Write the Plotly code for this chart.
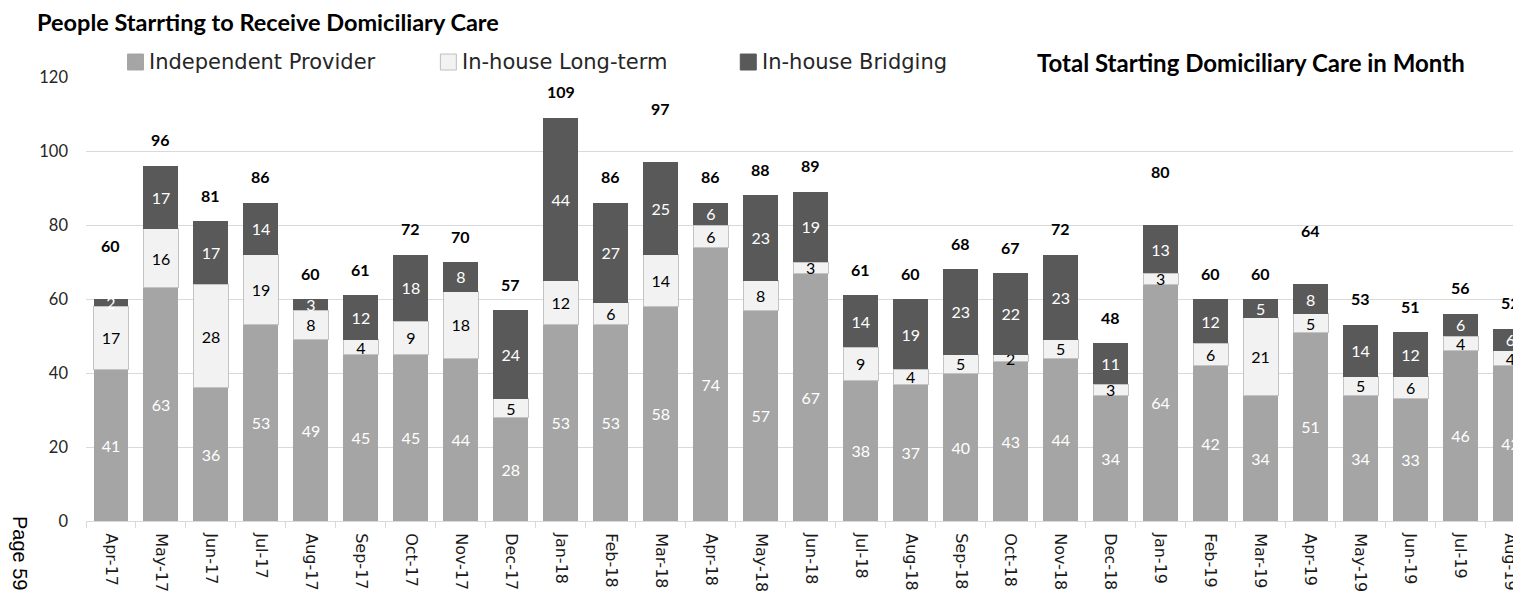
import plotly.graph_objects as go

months = ["Apr-17", "May-17", "Jun-17", "Jul-17", "Aug-17", "Sep-17", "Oct-17", "Nov-17", "Dec-17",
          "Jan-18", "Feb-18", "Mar-18", "Apr-18", "May-18", "Jun-18", "Jul-18", "Aug-18", "Sep-18",
          "Oct-18", "Nov-18", "Dec-18", "Jan-19", "Feb-19", "Mar-19", "Apr-19", "May-19", "Jun-19",
          "Jul-19", "Aug-19"]
independent = [41, 63, 36, 53, 49, 45, 45, 44, 28, 53, 53, 58, 74, 57, 67, 38, 37, 40, 43, 44,
               34, 64, 42, 34, 51, 34, 33, 46, 42]
long_term = [17, 16, 28, 19, 8, 4, 9, 18, 5, 12, 6, 14, 6, 8, 3, 9, 4, 5, 2, 5,
             3, 3, 6, 21, 5, 5, 6, 4, 4]
bridging = [2, 17, 17, 14, 3, 12, 18, 8, 24, 44, 27, 25, 6, 23, 19, 14, 19, 23, 22, 23,
            11, 13, 12, 5, 8, 14, 12, 6, 6]
totals = [60, 96, 81, 86, 60, 61, 72, 70, 57, 109, 86, 97, 86, 88, 89, 61, 60, 68, 67, 72,
          48, 80, 60, 60, 64, 53, 51, 56, 52]
y_ticks = [0, 20, 40, 60, 80, 100, 120]
series_names = ["Independent Provider", "In-house Long-term", "In-house Bridging"]
total_name = "Total Starting Domiciliary Care in Month"
title_text = "People Starrting to Receive Domiciliary Care"

# style: total labels that sit higher above their bar in the reference
raised_total_labels = {"Apr-17", "Mar-18", "Jan-19", "Apr-19"}

# ---- geometry (page offset of 8px from default body margin) ----
OFF = 8
W, H = 1521 - OFF, 591 - OFF
ML = 85.5 - OFF
MT = 77 - OFF
MB = H - (521.5 - OFF)
PW, PH = W - ML, H - MT - MB
cat_px = 50.0
x_right = PW / cat_px - 0.5


def px(xp):
    return (xp - OFF - ML) / PW


def py(yp):
    return 1 - (yp - OFF - MT) / PH


LABEL_FONT = "Lato, Carlito, Calibri, sans-serif"
TICK_FONT = "DejaVu Sans, Verdana, sans-serif"

colors = ["#a5a5a5", "#f2f2f2", "#595959"]
text_colors = ["white", "black", "white"]
line_widths = [0, 1, 0]
line_colors = ["#a5a5a5", "#c4c4c4", "#595959"]

fig = go.Figure()
for name, vals, col, tcol, lw, lcol in zip(series_names, [independent, long_term, bridging],
                                          colors, text_colors, line_widths, line_colors):
    fig.add_trace(go.Bar(
        name=name, x=months, y=vals,
        marker=dict(color=col, line=dict(width=lw, color=lcol)),
        text=[str(v) for v in vals], textposition="inside", insidetextanchor="middle",
        textangle=0, textfont=dict(family=LABEL_FONT, size=16, color=tcol),
        hoverinfo="skip", showlegend=False,
    ))

for m, t in zip(months, totals):
    fig.add_annotation(
        x=m, y=t, xref="x", yref="y", text=f"<b>{t}</b>", showarrow=False,
        yanchor="middle", xanchor="center",
        yshift=54 if m in raised_total_labels else 26,
        font=dict(family=LABEL_FONT, size=16, color="black"),
    )

# manual legend (markers + texts)
LEG_Y = 62
legend_text_x = [148, 461, 761]
for name, col, lcol, tx in zip(series_names, colors, ["#a5a5a5", "#bfbfbf", "#595959"],
                               legend_text_x):
    fig.add_shape(type="rect", xref="paper", yref="paper",
                  x0=px(tx - 21), x1=px(tx - 5), y0=py(LEG_Y + 8), y1=py(LEG_Y - 8),
                  fillcolor=col, line=dict(color=lcol, width=1))
    fig.add_annotation(xref="paper", yref="paper", x=px(tx - 1), y=py(LEG_Y),
                       xanchor="left", yanchor="middle", showarrow=False, text=name,
                       font=dict(family=TICK_FONT, size=21, color="#262626"))

fig.add_annotation(
    xref="paper", yref="paper", x=px(1035), y=py(LEG_Y),
    xanchor="left", yanchor="middle", showarrow=False,
    text=f"<b>{total_name}</b>",
    font=dict(family=LABEL_FONT, size=24, color="black"),
)
fig.add_annotation(
    xref="paper", yref="paper", x=px(19), y=py(554),
    xanchor="center", yanchor="middle", showarrow=False, textangle=90,
    text="Page 59", font=dict(family="Liberation Sans, Arial, sans-serif", size=20, color="black"),
)

fig.update_layout(
    width=W, height=H,
    margin=dict(l=ML, r=0, t=MT, b=MB, autoexpand=False),
    paper_bgcolor="white", plot_bgcolor="white",
    barmode="stack", bargap=0.3,
    uniformtext=dict(minsize=16, mode="show"),
    title=dict(text=f"<b>{title_text}</b>",
               xref="container", yref="container",
               x=(37 - OFF) / W, xanchor="left", y=1 - (23 - OFF) / H, yanchor="middle",
               font=dict(family=LABEL_FONT, size=23.5, color="black")),
    showlegend=False,
)
fig.update_xaxes(
    type="category", range=[-0.5, x_right], tickangle=90,
    tickson="boundaries", ticks="outside", ticklen=6, tickcolor="#d9d9d9",
    showline=True, linecolor="#d9d9d9", linewidth=1, showgrid=False,
    ticklabelstandoff=8,
    tickfont=dict(family=TICK_FONT, size=16, color="#1a1a1a"),
)
fig.update_yaxes(
    range=[0, 120], tickvals=y_ticks, showgrid=True, gridcolor="#d9d9d9", gridwidth=1,
    zeroline=False, showline=False, ticks="", ticklabelstandoff=17,
    tickfont=dict(family=LABEL_FONT, size=16.5, color="#262626"),
)

fig.write_html("out.html")
